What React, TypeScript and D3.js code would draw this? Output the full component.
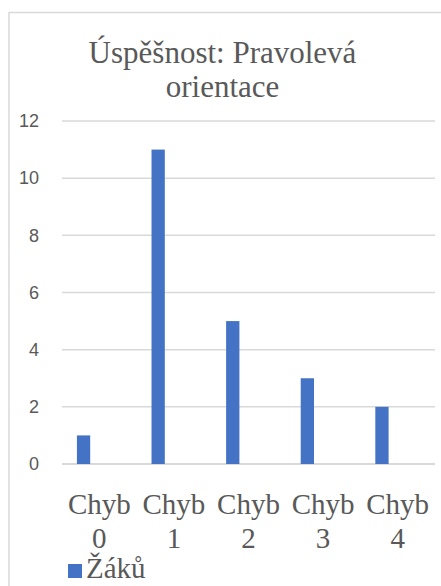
import React from "react";
import * as d3 from "d3";

const categories = ["Chyb 0", "Chyb 1", "Chyb 2", "Chyb 3", "Chyb 4"];
const values = [1, 11, 5, 3, 2];
const seriesName = "Žáků";
const yTicks = [0, 2, 4, 6, 8, 10, 12];
const titleLines = ["Úspěšnost: Pravolevá", "orientace"];

const W = 441;
const H = 586;
const GRAY_TEXT = "#595959";
const GRID = "#d9d9d9";
const BAR = "#4472c4";
const SERIF = "'Liberation Serif', 'Times New Roman', serif";
const SANS = "'Liberation Sans', Arial, sans-serif";

export default function App() {
  const x = d3.scaleBand<string>().domain(categories).range([62, 435]).padding(0);
  const y = d3.scaleLinear().domain([0, 12]).range([464, 121]);
  const barOffset = x.bandwidth() * 0.2;
  const barW = x.bandwidth() * 0.178;

  return (
    <svg
      width={W}
      height={H}
      style={{ position: "absolute", left: 0, top: 0, background: "#fff" }}
    >
      <rect x={0} y={0} width={W} height={H} fill="#fff" />
      {/* chart border */}
      <line x1={9} x2={W} y1={12.5} y2={12.5} stroke={GRID} strokeWidth={1.5} />
      <line x1={9} x2={9} y1={12} y2={H} stroke={GRID} strokeWidth={1.5} />

      {/* title */}
      {titleLines.map((t, i) => (
        <text
          key={i}
          x={222.5}
          y={63 + i * 34}
          textAnchor="middle"
          fontFamily={SERIF}
          fontSize={31}
          fill={GRAY_TEXT}
        >
          {t}
        </text>
      ))}

      {/* gridlines & y ticks */}
      {yTicks.map((t) => (
        <g key={t}>
          <line
            x1={x.range()[0]}
            x2={x.range()[1]}
            y1={y(t)}
            y2={y(t)}
            stroke={GRID}
            strokeWidth={t === 0 ? 2 : 1.5}
          />
          <text
            x={39}
            y={y(t)}
            dy="0.35em"
            textAnchor="end"
            fontFamily={SANS}
            fontSize={18}
            fill={GRAY_TEXT}
          >
            {t}
          </text>
        </g>
      ))}

      {/* bars */}
      {categories.map((c, i) => (
        <rect
          key={c}
          x={(x(c) as number) + barOffset}
          y={y(values[i])}
          width={barW}
          height={y(0) - y(values[i])}
          fill={BAR}
        />
      ))}

      {/* x labels */}
      {categories.map((c) => {
        const parts = c.split(" ");
        const cx = (x(c) as number) + x.bandwidth() / 2;
        return (
          <g key={c}>
            {parts.map((p, j) => (
              <text
                key={j}
                x={cx}
                y={514 + j * 34}
                textAnchor="middle"
                fontFamily={SERIF}
                fontSize={29}
                fill={GRAY_TEXT}
              >
                {p}
              </text>
            ))}
          </g>
        );
      })}

      {/* legend */}
      <rect x={68} y={564} width={14} height={14} fill={BAR} />
      <text x={86} y={578} fontFamily={SERIF} fontSize={29} fill={GRAY_TEXT}>
        {seriesName}
      </text>
    </svg>
  );
}
